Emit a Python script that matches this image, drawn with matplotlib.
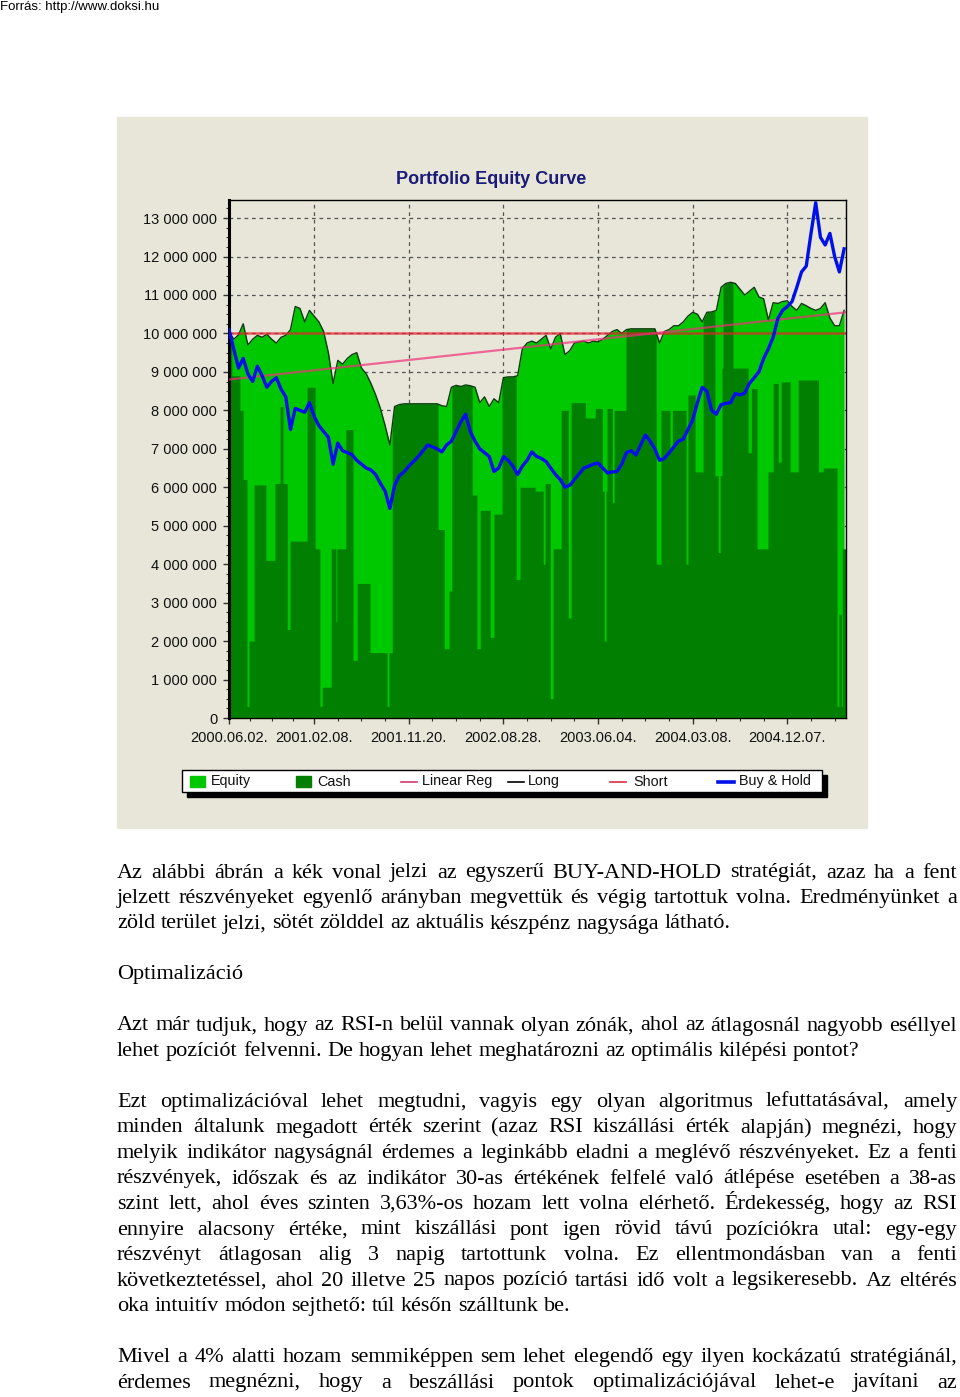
import matplotlib
matplotlib.use("Agg")
import matplotlib.pyplot as plt
import matplotlib.patches as mpatches
import matplotlib.lines as mlines
import matplotlib.ticker as mticker
import numpy as np

W, H = 960, 1397

# trading-day index, one sample every 10 days
days = np.arange(0, 1310, 10)
date_ticks = [0, 180, 380, 580, 780, 980, 1180]
date_labels = ["2000.06.02.", "2001.02.08.", "2001.11.20.", "2002.08.28.",
               "2003.06.04.", "2004.03.08.", "2004.12.07."]

# values in millions
equity = [10.05, 9.85, 9.96, 10.25, 9.7, 9.85, 9.95, 9.9, 9.98, 9.85,
          9.75, 9.9, 9.95, 10.1, 10.7, 10.65, 10.3, 10.6, 10.45, 10.3,
          10.05, 9.5, 8.7, 9.3, 9.2, 9.35, 9.45, 9.5, 9.1, 8.95,
          8.7, 8.4, 8.05, 7.6, 7.1, 8.1, 8.15, 8.17, 8.17, 8.17,
          8.17, 8.17, 8.17, 8.17, 8.17, 8.12, 8.1, 8.6, 8.65, 8.62,
          8.66, 8.64, 8.6, 8.2, 8.35, 8.1, 8.3, 8.2, 8.85, 8.87,
          8.87, 8.9, 9.6, 9.75, 9.8, 9.75, 9.85, 9.95, 9.6, 9.9,
          10.0, 9.45, 9.55, 9.75, 9.78, 9.8, 9.75, 9.8, 9.78, 9.85,
          9.95, 10.05, 10.1, 10.0, 10.1, 10.12, 10.12, 10.12, 10.12, 10.12,
          10.12, 9.75, 10.05, 10.1, 10.2, 10.2, 10.3, 10.45, 10.55, 10.5,
          10.3, 10.55, 10.56, 10.6, 11.2, 11.3, 11.33, 11.3, 11.15, 11.0,
          11.1, 11.2, 10.95, 10.9, 10.35, 10.8, 10.78, 10.83, 10.85, 10.7,
          10.6, 10.78, 10.72, 10.65, 10.6, 10.65, 10.8, 10.4, 10.2, 10.2,
          10.6]

# cash: level (millions) that starts at the given day and holds until the next one
cash_start = [0, 6, 23, 30, 38, 42, 53, 78, 97, 108, 114, 123, 129, 165, 182,
              192, 197, 216, 226, 228, 247, 262, 271, 298, 334, 338, 345, 442,
              455, 465, 471, 514, 524, 531, 552, 560, 577, 607, 615, 647, 664,
              668, 679, 685, 702, 717, 723, 753, 774, 789, 793, 797, 799, 810,
              814, 839, 903, 913, 932, 937, 966, 970, 985, 1002, 1027, 1034,
              1038, 1042, 1044, 1065, 1097, 1104, 1116, 1139, 1150, 1161, 1167,
              1186, 1203, 1246, 1256, 1285, 1289, 1294, 1296]
cash_level = [9.9, 8.9, 8.0, 6.2, 0.3, 2.0, 6.06, 4.1, 6.1, 8.1, 6.1, 2.3, 4.6,
              8.6, 4.4, 0.3, 0.8, 4.4, 2.5, 4.4, 7.5, 1.5, 3.5, 1.7, 0.3, 1.7,
              8.2, 4.9, 1.8, 3.3, 8.7, 5.8, 1.8, 5.4, 2.1, 5.3, 8.9, 3.6, 6.0,
              5.9, 4.0, 6.1, 0.5, 4.4, 8.0, 2.6, 8.2, 7.8, 8.05, 5.9, 2.0, 5.9,
              8.05, 5.6, 8.0, 10.2, 4.0, 8.0, 7.0, 8.0, 4.0, 8.4, 6.4, 10.6,
              6.3, 4.3, 6.3, 9.1, 11.4, 9.1, 6.9, 8.57, 4.4, 6.4, 8.7, 6.65,
              8.74, 6.4, 8.79, 6.4, 6.5, 0.3, 2.7, 0.3, 4.4]

buy_hold = [10.1, 9.6, 9.1, 9.35, 8.95, 8.75, 9.15, 8.9, 8.6, 8.75,
            8.85, 8.55, 8.35, 7.5, 8.05, 8.0, 7.95, 8.2, 7.85, 7.6,
            7.45, 7.3, 6.6, 7.15, 6.95, 6.9, 6.85, 6.7, 6.6, 6.5,
            6.45, 6.33, 6.1, 5.9, 5.45, 6.05, 6.3, 6.4, 6.55, 6.67,
            6.8, 6.95, 7.1, 7.05, 7.0, 6.92, 7.1, 7.2, 7.45, 7.7,
            7.9, 7.45, 7.2, 7.0, 6.9, 6.8, 6.41, 6.5, 6.8, 6.7,
            6.55, 6.33, 6.55, 6.7, 6.92, 6.8, 6.75, 6.67, 6.5, 6.33,
            6.2, 6.0, 6.05, 6.2, 6.35, 6.5, 6.55, 6.6, 6.63, 6.5,
            6.37, 6.4, 6.41, 6.6, 6.9, 6.95, 6.84, 7.1, 7.36, 7.2,
            7.0, 6.7, 6.75, 6.89, 7.05, 7.2, 7.25, 7.5, 7.75, 8.2,
            8.6, 8.5, 8.0, 7.9, 8.15, 8.18, 8.2, 8.44, 8.4, 8.45,
            8.7, 8.85, 9.0, 9.35, 9.6, 9.9, 10.39, 10.6, 10.7, 10.83,
            11.2, 11.6, 11.75, 12.6, 13.4, 12.5, 12.3, 12.6, 12.0, 11.6,
            12.2]

start_capital = 10.0
linreg_start, linreg_end = 8.8, 10.55

legend_labels = ["Equity", "Cash", "Linear Reg", "Long", "Short", "Buy & Hold"]

text_lines = [
    ("Az alábbi ábrán a kék vonal jelzi az egyszerű BUY-AND-HOLD stratégiát, azaz ha a fent", True),
    ("jelzett részvényeket egyenlő arányban megvettük és végig tartottuk volna. Eredményünket a", True),
    ("zöld terület jelzi, sötét zölddel az aktuális készpénz nagysága látható.", False),
    ("Optimalizáció", False),
    ("Azt már tudjuk, hogy az RSI-n belül vannak olyan zónák, ahol az átlagosnál nagyobb eséllyel", True),
    ("lehet pozíciót felvenni. De hogyan lehet meghatározni az optimális kilépési pontot?", False),
    ("Ezt optimalizációval lehet megtudni, vagyis egy olyan algoritmus lefuttatásával, amely", True),
    ("minden általunk megadott érték szerint (azaz RSI kiszállási érték alapján) megnézi, hogy", True),
    ("melyik indikátor nagyságnál érdemes a leginkább eladni a meglévő részvényeket. Ez a fenti", True),
    ("részvények, időszak és az indikátor 30-as értékének felfelé való átlépése esetében a 38-as", True),
    ("szint lett, ahol éves szinten 3,63%-os hozam lett volna elérhető. Érdekesség, hogy az RSI", True),
    ("ennyire alacsony értéke, mint kiszállási pont igen rövid távú pozíciókra utal: egy-egy", True),
    ("részvényt átlagosan alig 3 napig tartottunk volna. Ez ellentmondásban van a fenti", True),
    ("következtetéssel, ahol 20 illetve 25 napos pozíció tartási idő volt a legsikeresebb. Az eltérés", True),
    ("oka intuitív módon sejthető: túl későn szálltunk be.", False),
    ("Mivel a 4% alatti hozam semmiképpen sem lehet elegendő egy ilyen kockázatú stratégiánál,", True),
    ("érdemes megnézni, hogy a beszállási pontok optimalizációjával lehet-e javítani az", True),
]
line_slots = [0, 1, 2, 4, 6, 7, 9, 10, 11, 12, 13, 14, 15, 16, 17, 19, 20]

LIGHT = "#00c800"
DARK = "#007f00"
BEIGE = "#e7e6d8"

fig = plt.figure(figsize=(W / 100, H / 100), dpi=100)
fig.patch.set_facecolor("white")


def fx(px):
    return px / W


def fy(py):
    return 1 - py / H


# beige panel behind the chart
fig.patches.append(mpatches.Rectangle((fx(117), fy(828)), 750 / W, 711 / H,
                                      transform=fig.transFigure, color=BEIGE, zorder=-5))

ax = fig.add_axes([fx(229), fy(718), 617 / W, 518 / H])
ax.set_facecolor(BEIGE)

eq = np.array(equity)
grid = np.arange(0, 1305, 1.0)
eq_fine = np.interp(grid, days, eq)
idx = np.searchsorted(cash_start, grid, side="right") - 1
cash_fine = np.minimum(np.array(cash_level)[idx], eq_fine)

ax.fill_between(days, 0, eq, color=LIGHT, lw=0, zorder=1)
ax.fill_between(grid, 0, cash_fine, step="post", color=DARK, lw=0, zorder=2)
ax.plot(days, eq, color="#0a3a0a", lw=1.0, zorder=3)
ax.axhline(start_capital, color="#e8202a", lw=1.8, alpha=0.7, zorder=4)
ax.plot([days[0], days[-1] + 4], [linreg_start, linreg_end], color="#f0307a",
        lw=1.6, alpha=0.7, zorder=4)
ax.plot(days, buy_hold, color="#0010e8", lw=2.4, zorder=5)

ax.set_xlim(0, 1304)
ax.set_ylim(0, 13.47)
ax.set_yticks(np.arange(0, 14, 1))
ax.yaxis.set_major_formatter(mticker.FuncFormatter(
    lambda v, p: f"{int(round(v * 1e6)):,}".replace(",", " ")))
ax.yaxis.set_minor_locator(mticker.MultipleLocator(0.25))
ax.set_xticks(date_ticks)
ax.set_xticklabels(date_labels)
minor_x = [45, 90, 135] + [m for m in range(230, 1300, 50) if m not in date_ticks]
ax.set_xticks(minor_x, minor=True)

ax.grid(True, which="major", color="#555555", lw=0.9, linestyle=(0, (3, 3)), zorder=0)
ax.set_axisbelow(True)
ax.tick_params(axis="both", which="major", length=4, width=1, color="#333333",
               labelsize=10.5, labelcolor="#111111")
ax.tick_params(axis="y", which="major", pad=4.5)
ax.tick_params(axis="x", which="major", pad=5)
ax.tick_params(axis="both", which="minor", length=2.5, width=0.8, color="#333333")
for lab in ax.get_xticklabels() + ax.get_yticklabels():
    lab.set_family("Liberation Sans")
for side in ["top", "right", "bottom"]:
    ax.spines[side].set_color("black")
    ax.spines[side].set_linewidth(1.0)
ax.spines["left"].set_linewidth(2.2)
ax.spines["left"].set_color("black")

fig.text(fx(491), fy(180), "Portfolio Equity Curve", ha="center", va="center",
         color="#1a1a78", fontsize=13, fontweight="bold", family="Liberation Sans")

# legend box with shadow
fig.patches.append(mpatches.Rectangle((fx(187), fy(797)), 640 / W, 22 / H,
                                      transform=fig.transFigure, color="black", zorder=1))
fig.patches.append(mpatches.Rectangle((fx(182), fy(792)), 640 / W, 22 / H,
                                      transform=fig.transFigure, facecolor="white",
                                      edgecolor="black", lw=1, zorder=2))
ly = 781.5
item_x = [190, 296, 401, 508, 610, 718]
text_x = [211, 317, 422, 528, 633, 739]
kinds = [("box", LIGHT), ("box", DARK), ("line", "#d03a6a"),
         ("line", "black"), ("line", "#d83040"), ("line", "#0010e8")]
for (kind, col), x0, tx, lab in zip(kinds, item_x, text_x, legend_labels):
    if kind == "box":
        fig.patches.append(mpatches.Rectangle((fx(x0), fy(787)), 15 / W, 11 / H,
                                              transform=fig.transFigure, color=col, zorder=3))
    else:
        lw = 2.6 if lab == "Buy & Hold" else 1.2
        fig.lines.append(mlines.Line2D([fx(x0), fx(x0 + 16)], [fy(ly), fy(ly)],
                                       transform=fig.transFigure, color=col, lw=lw, zorder=3))
    fig.text(fx(tx), fy(ly), lab, ha="left", va="center", fontsize=10.4,
             family="Liberation Sans", color="#111111", zorder=4)

# source header
fig.text(0, fy(1), "Forrás: http://www.doksi.hu", ha="left", va="top",
         fontsize=9.5, family="Liberation Sans", color="black")

# body text, justified like the page
renderer = fig.canvas.get_renderer()
left_px, right_px = 117, 957
fs = 16
space_px = fs * 100 / 72 * 0.25
for (line, justify), slot in zip(text_lines, line_slots):
    yb = 877.5 + 25.5 * slot
    words = line.split(" ")
    objs = [fig.text(0, fy(yb), w, ha="left", va="baseline", fontsize=fs,
                     family="Liberation Serif", color="black") for w in words]
    widths = [o.get_window_extent(renderer).width for o in objs]
    if justify and len(words) > 1:
        gap = (right_px - left_px - sum(widths)) / (len(words) - 1)
    else:
        gap = space_px
    x = left_px
    for o, w in zip(objs, widths):
        o.set_x(fx(x))
        x += w + gap

fig.savefig("out.png", dpi=100, facecolor="white")
